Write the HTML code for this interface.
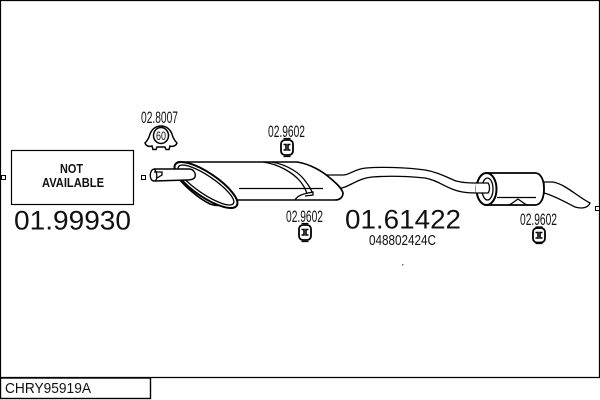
<!DOCTYPE html>
<html><head><meta charset="utf-8"><style>
html,body{margin:0;padding:0;background:#fff}
svg{display:block}
text{font-family:"Liberation Sans",sans-serif;fill:#111}
.l{fill:none;stroke:#000;stroke-width:1.3}
.b{fill:#fff;stroke:#000;stroke-width:2}
</style></head><body>
<svg width="600" height="400" viewBox="0 0 600 400" xmlns="http://www.w3.org/2000/svg">
<defs></defs>
<rect width="600" height="400" fill="#fff"/>
<path d="M0.5 0.5H599.5V377.5H0.5Z" fill="none" stroke="#000" stroke-width="1.2"/>
<rect x="0.5" y="378" width="150" height="20.500" fill="#fff" stroke="#000" stroke-width="1.400"/>
<text x="5" y="393" font-size="14.500" textLength="86" lengthAdjust="spacingAndGlyphs">CHRY95919A</text>

<rect x="11.500" y="150.500" width="122" height="54" fill="#fff" stroke="#000" stroke-width="1.200"/>
<text x="60" y="173" font-size="12.500" font-weight="bold" textLength="23" lengthAdjust="spacingAndGlyphs">NOT</text>
<text x="42" y="187" font-size="12.500" font-weight="bold" textLength="62" lengthAdjust="spacingAndGlyphs">AVAILABLE</text>
<text x="72.500" y="229.500" font-size="26.500" text-anchor="middle" textLength="117" lengthAdjust="spacingAndGlyphs">01.99930</text>
<rect x="1.500" y="175.500" width="4" height="4" fill="#fff" stroke="#000"/>
<rect x="141.500" y="175.500" width="4" height="4" fill="#fff" stroke="#000"/>
<rect x="595.500" y="206.500" width="4" height="4" fill="#fff" stroke="#000"/>

<!-- connecting pipe -->
<path d="M325 175L343 175C350 175 354 169 366 168C380 167 405 167 425 170C438 172 448 178 456 181C464 183 470 183 482 183L482 193C470 193 462 193 452 189C442 185 436 180 425 178C405 176 385 176 372 177C360 178 353 184 345 187L335 190Z" fill="#fff" stroke="#000" stroke-width="1.300"/>

<!-- front muffler -->
<path d="M178 162L297 162C310 164 322 171 330 178C336 183 342 188 343 193C343 197 340 200 335 200L232 200C226 205 218 207 210 204C198 198 184 186 176 175C173 170 174 164 178 162Z" fill="#fff" stroke="#000" stroke-width="1.600"/>
<path d="M263 162C278 164 292 172 300 181C304 186 306 190 307 194" class="l" stroke-width="1.200"/>
<path d="M272 162C288 165 300 173 306 182C309 186 311 189 312 192" class="l"/>
<path d="M295 200C297 196 303 194 308 193L313 192L313 195L305 196" class="l"/>
<path d="M239 188.500L323 188.500" class="l" stroke-width="1"/>
<path d="M330 178C336 183 341 188 343 193C343 197 340 200 336 200" class="l" stroke-width="2.200"/>
<!-- flange ellipse -->
<ellipse cx="206" cy="185" rx="37" ry="12" transform="rotate(34 206 185)" class="b"/>
<ellipse cx="206" cy="185" rx="33" ry="9" transform="rotate(34 206 185)" class="l"/>
<!-- inlet pipe -->
<path d="M154 169L189 169C194 169 196 174 195 177C194 179 191 180 187 180L154 181C149 181 149 170 154 169Z" fill="#fff" stroke="#000" stroke-width="1.400"/>
<path d="M154 169C157 171 158 179 155 181" class="l" stroke-width="1"/>
<path d="M154 172H162V175L157 178" class="l" stroke-width="1"/>

<!-- rear muffler -->
<path d="M544 182L553 182C565 184 578 197 590 203C588 208 582 209 575 207C565 202 555 196 544 193Z" fill="#fff" stroke="#000" stroke-width="1.300"/>
<path d="M486 173L535 173C541 173 544 180 544 189C544 198 541 205 535 205L486 205Z" fill="#fff" stroke="#000" stroke-width="1.800"/>
<ellipse cx="486.500" cy="189" rx="10" ry="16" class="b" stroke-width="2.400"/>
<ellipse cx="487.500" cy="189" rx="5.500" ry="11" class="l"/>
<path d="M476 183L488 183C490 185 490 191 488 193L476 193" fill="#fff" stroke="#000" stroke-width="1.300"/>
<path d="M497 197.500H536" class="l" stroke-width="1"/>
<path d="M509 205C513 203 515 201 518 199C521 201 523 203 527 205" class="l" stroke-width="1.600"/>

<!-- clamp 02.8007 -->
<text x="141" y="123" font-size="17" textLength="37" lengthAdjust="spacingAndGlyphs">02.8007</text>
<path d="M145 143C147 141 149 138 150 134C152 129 156 126 161 126C166 126 170 129 172 134C173 138 175 141 177 143C176 146 172 147 170 146L169 149.500H166L165 147H157L156 149.500H153L152 146C149 147 146 146 145 143Z" fill="#fff" stroke="#000" stroke-width="1.500"/>
<ellipse cx="161" cy="135.500" rx="7.500" ry="8" fill="#fff" stroke="#000" stroke-width="1.500"/>
<text x="161" y="140" font-size="12" text-anchor="middle" textLength="10" lengthAdjust="spacingAndGlyphs">60</text>

<!-- labels -->
<text x="268" y="137" font-size="17" textLength="37" lengthAdjust="spacingAndGlyphs">02.9602</text>
<text x="286" y="222" font-size="17" textLength="37" lengthAdjust="spacingAndGlyphs">02.9602</text>
<text x="520" y="225" font-size="17" textLength="37" lengthAdjust="spacingAndGlyphs">02.9602</text>
<text x="345" y="228.500" font-size="26.500" textLength="116" lengthAdjust="spacingAndGlyphs">01.61422</text>
<text x="369" y="245" font-size="15" textLength="67" lengthAdjust="spacingAndGlyphs">048802424C</text>
<rect x="402" y="264" width="1.500" height="1.500" fill="#777"/>

<!-- hangers -->
<g fill="#fff" stroke="#000" stroke-width="1.800">
<rect x="281" y="140" width="12" height="15" rx="4"/>
<path d="M283.500 138.500H290.500M283.500 156.500H290.500" fill="none" stroke-width="1.200"/>
<path d="M283.500 144.500H286V150H283.500M290.500 144.500H288V150H290.500" fill="none" stroke-width="1.600"/>
</g>
<g fill="#fff" stroke="#000" stroke-width="1.800">
<rect x="299" y="225" width="12" height="15" rx="4"/>
<path d="M301.500 223.500H308.500M301.500 241.500H308.500" fill="none" stroke-width="1.200"/>
<path d="M301.500 229.500H304V235H301.500M308.500 229.500H306V235H308.500" fill="none" stroke-width="1.600"/>
</g>
<g fill="#fff" stroke="#000" stroke-width="1.800">
<rect x="533" y="228" width="12" height="14.500" rx="4"/>
<path d="M535.500 227H542.500M535.500 243.500H542.500" fill="none" stroke-width="1.200"/>
<path d="M535.500 232.500H538V238H535.500M542.500 232.500H540V238H542.500" fill="none" stroke-width="1.600"/>
</g>
</svg>
</body></html>
